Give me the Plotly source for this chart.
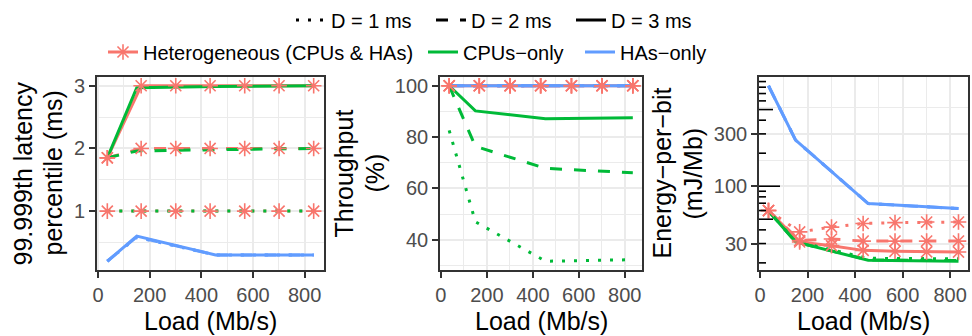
import numpy as np
import plotly.graph_objects as go

W, H = 972, 336
FONT = "Liberation Sans, Arial, Helvetica, sans-serif"

RED, GREEN, BLUE = "#F8766D", "#00BA38", "#619CFF"
GRID, FRAME, TICKTXT = "#EBEBEB", "#333333", "#4D4D4D"

# ---------------------------------------------------------------- data
DELAY_LABELS = ["D = 1 ms", "D = 2 ms", "D = 3 ms"]
CONFIG_LABELS = ["Heterogeneous (CPUs & HAs)", "CPUs−only", "HAs−only"]

LOAD_HET = [36, 167, 301, 434, 568, 701, 835]   # Mb/s, heterogeneous runs
LOAD_ONLY = [36, 150, 455, 835]                 # Mb/s, CPU-only / HA-only runs

# 99.999th latency percentile (ms)
LAT_HET_D1 = [1.0, 1.0, 1.0, 1.0, 1.0, 1.0, 1.0]
LAT_HET_D2 = [1.85, 2.0, 2.0, 2.0, 2.0, 2.0, 2.0]
LAT_HET_D3 = [1.85, 3.0, 3.0, 3.0, 3.0, 3.0, 3.0]
LAT_CPU_D1 = [1.0, 1.0, 1.0, 1.0]
LAT_CPU_D2 = [1.85, 1.96, 1.98, 2.0]
LAT_CPU_D3 = [1.85, 2.97, 2.99, 3.0]
LAT_HA_D1 = [0.2, 0.58, 0.3, 0.3]
LAT_HA_D2 = [0.2, 0.59, 0.3, 0.3]
LAT_HA_D3 = [0.2, 0.6, 0.3, 0.3]

# Throughput (%)
THR_HET_D1 = [100, 100, 100, 100, 100, 100, 100]
THR_HET_D2 = [100, 100, 100, 100, 100, 100, 100]
THR_HET_D3 = [100, 100, 100, 100, 100, 100, 100]
THR_CPU_D1 = [82.6, 47.0, 31.6, 32.2]
THR_CPU_D2 = [100, 76.4, 67.8, 66.1]
THR_CPU_D3 = [100, 90.2, 87.1, 87.5]
THR_HA_D1 = [100, 100, 100, 100]
THR_HA_D2 = [100, 100, 100, 100]
THR_HA_D3 = [100, 100, 100, 100]

# Energy-per-bit (mJ/Mb)
EPB_HET_D1 = [60, 38.3, 42.4, 45.7, 46.6, 47.1, 47.1]
EPB_HET_D2 = [60, 32.0, 33.0, 31.6, 31.6, 31.6, 31.6]
EPB_HET_D3 = [60, 31.0, 28.7, 26.0, 25.5, 25.2, 25.1]
EPB_CPU_D1 = [59.4, 31.5, 22.0, 21.8]
EPB_CPU_D2 = [59.4, 31.0, 21.3, 21.0]
EPB_CPU_D3 = [59.4, 31.0, 21.1, 20.7]
EPB_HA_D1 = [824, 263, 69.5, 62.5]
EPB_HA_D2 = [824, 263, 69.5, 62.5]
EPB_HA_D3 = [824, 263, 69.5, 62.5]

X_TICKS = [0, 200, 400, 600, 800]
LAT_TICKS = [1, 2, 3]
THR_TICKS = [40, 60, 80, 100]
EPB_TICKS = [30, 100, 300]

# ---------------------------------------------------------------- styling
DASHES = ["3px,9px", "12px,12px", "solid"]
LW = 3
STAR = dict(symbol="asterisk-open", size=13, color=RED,
            line=dict(color=RED, width=1.6))

# panel boxes in pixels (left, right) and shared (top, bottom)
PANEL_X = [(97, 324), (440, 642), (759, 968)]
PANEL_TOP, PANEL_BOTTOM = 77, 270
Y_DOMAIN = [1 - PANEL_BOTTOM / H, 1 - PANEL_TOP / H]


def padded(lo, hi, f=0.05):
    s = hi - lo
    return [lo - f * s, hi + f * s]


fig = go.Figure()

panels = [
    dict(het=[LAT_HET_D1, LAT_HET_D2, LAT_HET_D3],
         cpu=[LAT_CPU_D1, LAT_CPU_D2, LAT_CPU_D3],
         ha=[LAT_HA_D1, LAT_HA_D2, LAT_HA_D3]),
    dict(het=[THR_HET_D1, THR_HET_D2, THR_HET_D3],
         cpu=[THR_CPU_D1, THR_CPU_D2, THR_CPU_D3],
         ha=[THR_HA_D1, THR_HA_D2, THR_HA_D3]),
    dict(het=[EPB_HET_D1, EPB_HET_D2, EPB_HET_D3],
         cpu=[EPB_CPU_D1, EPB_CPU_D2, EPB_CPU_D3],
         ha=[EPB_HA_D1, EPB_HA_D2, EPB_HA_D3]),
]

for i, p in enumerate(panels):
    xa = "x" if i == 0 else f"x{i + 1}"
    ya = "y" if i == 0 else f"y{i + 1}"
    # lines: heterogeneous, then CPU-only, then HA-only
    for series, xs, color in ((p["het"], LOAD_HET, RED),
                              (p["cpu"], LOAD_ONLY, GREEN),
                              (p["ha"], LOAD_ONLY, BLUE)):
        for d, ys in enumerate(series):
            fig.add_trace(go.Scatter(
                x=xs, y=ys, mode="lines", xaxis=xa, yaxis=ya,
                line=dict(color=color, width=LW, dash=DASHES[d]),
                showlegend=False, hoverinfo="skip"))
    # asterisk points for the heterogeneous configuration on top
    for ys in p["het"]:
        fig.add_trace(go.Scatter(
            x=LOAD_HET, y=ys, mode="markers", xaxis=xa, yaxis=ya,
            marker=STAR, showlegend=False, hoverinfo="skip"))

# ---------------------------------------------------------------- legends
legend_entries = []
for d, lab in enumerate(DELAY_LABELS):
    legend_entries.append(dict(name=lab, mode="lines",
                               line=dict(color="black", width=LW, dash=DASHES[d])))
legend_entries.append(dict(name=CONFIG_LABELS[0], mode="lines+markers",
                           line=dict(color=RED, width=LW), marker=STAR))
legend_entries.append(dict(name=CONFIG_LABELS[1], mode="lines",
                           line=dict(color=GREEN, width=LW)))
legend_entries.append(dict(name=CONFIG_LABELS[2], mode="lines",
                           line=dict(color=BLUE, width=LW)))

# text start (px) and row centre (px) of each legend item
LEGEND_POS = [(333, 20), (473, 20), (613, 20), (145, 52), (465, 52), (622, 52)]

legend_layout = {}
for k, (entry, (tx, ty)) in enumerate(zip(legend_entries, LEGEND_POS)):
    lname = "legend" if k == 0 else f"legend{k + 1}"
    fig.add_trace(go.Scatter(x=[None], y=[None], legend=lname, showlegend=True,
                             hoverinfo="skip", **entry))
    legend_layout[lname] = dict(
        x=(tx - 42) / W, y=1 - ty / H, xanchor="left", yanchor="middle",
        orientation="h", bgcolor="rgba(0,0,0,0)", borderwidth=0,
        font=dict(family=FONT, size=20, color="black"), itemclick=False,
        itemdoubleclick=False)

# ---------------------------------------------------------------- axes
axis_common = dict(showline=True, mirror=True, linecolor=FRAME, linewidth=1.6,
                   ticks="outside", ticklen=6, tickwidth=1.6, tickcolor=FRAME,
                   tickfont=dict(family=FONT, size=20, color=TICKTXT),
                   showgrid=True, gridcolor=GRID, gridwidth=2, zeroline=False,
                   automargin=False)

x_all = LOAD_HET + LOAD_ONLY
x_range = padded(min(x_all), max(x_all))

layout = dict(width=W, height=H, margin=dict(l=0, r=0, t=0, b=0),
              paper_bgcolor="white", plot_bgcolor="white",
              font=dict(family=FONT), showlegend=True)
layout.update(legend_layout)

for i, (l, r) in enumerate(PANEL_X):
    sfx = "" if i == 0 else str(i + 1)
    layout[f"xaxis{sfx}"] = dict(
        axis_common, domain=[l / W, r / W], anchor=f"y{sfx}", range=x_range,
        tickmode="array", tickvals=X_TICKS,
        minor=dict(dtick=100, tick0=0, showgrid=True, gridcolor=GRID,
                   gridwidth=1, ticks=""))

lat_all = sum(panels[0]["het"] + panels[0]["cpu"] + panels[0]["ha"], [])
thr_all = sum(panels[1]["het"] + panels[1]["cpu"] + panels[1]["ha"], [])
epb_all = sum(panels[2]["het"] + panels[2]["cpu"] + panels[2]["ha"], [])

layout["yaxis"] = dict(axis_common, domain=Y_DOMAIN, anchor="x",
                       range=padded(min(lat_all), max(lat_all)),
                       tickmode="array", tickvals=LAT_TICKS,
                       minor=dict(dtick=0.5, tick0=0, showgrid=True,
                                  gridcolor=GRID, gridwidth=1, ticks=""))
layout["yaxis2"] = dict(axis_common, domain=Y_DOMAIN, anchor="x2",
                        range=padded(min(thr_all), max(thr_all)),
                        tickmode="array", tickvals=THR_TICKS,
                        minor=dict(dtick=10, tick0=0, showgrid=True,
                                   gridcolor=GRID, gridwidth=1, ticks=""))
epb_log = padded(np.log10(min(epb_all)), np.log10(max(epb_all)))
epb_minor = [10 ** ((np.log10(a) + np.log10(b)) / 2)
             for a, b in zip(EPB_TICKS[:-1], EPB_TICKS[1:])]
epb_minor.append(10 ** (1.5 * np.log10(EPB_TICKS[-1]) - 0.5 * np.log10(EPB_TICKS[-2])))
layout["yaxis3"] = dict(axis_common, domain=Y_DOMAIN, anchor="x3", type="log",
                        range=epb_log, tickmode="array", tickvals=EPB_TICKS,
                        ticktext=[str(v) for v in EPB_TICKS],
                        minor=dict(tickmode="array", tickvals=epb_minor,
                                   showgrid=True, gridcolor=GRID, gridwidth=1,
                                   ticks=""))
fig.update_layout(**layout)

# log-scale tick marks along the left edge of the energy panel
shapes = []
panel3_w = PANEL_X[2][1] - PANEL_X[2][0]
for exp in range(0, 4):
    for m in range(1, 10):
        v = m * 10 ** exp
        f = (np.log10(v) - epb_log[0]) / (epb_log[1] - epb_log[0])
        if not 0 <= f <= 1:
            continue
        length = 21 if m == 1 else (14 if m == 5 else 7)
        shapes.append(dict(type="line", xref="x3 domain", yref="y3 domain",
                           x0=0, x1=length / panel3_w, y0=f, y1=f,
                           line=dict(color="black", width=1.6), layer="above"))
fig.update_layout(shapes=shapes)

# ---------------------------------------------------------------- titles
ann = []
title_font = dict(family=FONT, size=25, color="black")
mid_y = 1 - (PANEL_TOP + PANEL_BOTTOM) / 2 / H
for l, r in PANEL_X:
    ann.append(dict(text="Load (Mb/s)", x=(l + r) / 2 / W, y=1 - 321 / H,
                    xref="paper", yref="paper", xanchor="center",
                    yanchor="middle", showarrow=False, font=title_font))
Y_TITLES = [("99.999th latency", 22), ("percentile (ms)", 52),
            ("Throughput", 343), ("(%)", 374),
            ("Energy−per−bit", 661), ("(mJ/Mb)", 692)]
for txt, px in Y_TITLES:
    ann.append(dict(text=txt, x=px / W, y=mid_y, xref="paper", yref="paper",
                    xanchor="center", yanchor="middle", textangle=-90,
                    showarrow=False, font=title_font))
fig.update_layout(annotations=ann)

fig.write_html("out.html")
